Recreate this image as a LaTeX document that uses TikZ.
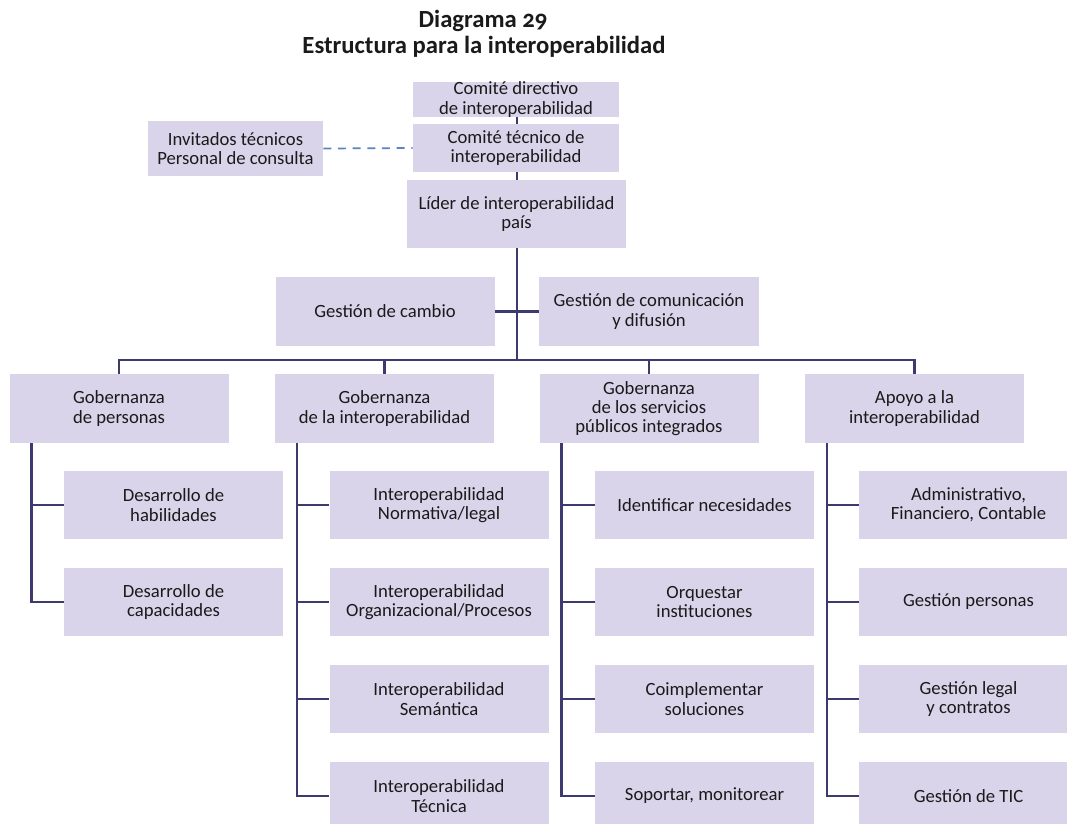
\documentclass[tikz,border=0pt]{standalone}
\usepackage{fontspec}
\setmainfont{Carlito}
\definecolor{boxfill}{HTML}{D9D4EA}
\definecolor{linec}{HTML}{3C3A6E}
\definecolor{dashc}{HTML}{5B84C4}
\definecolor{txt}{HTML}{1A1A1A}
\begin{document}
\begin{tikzpicture}[x=0.75pt,y=0.75pt,
  box/.style={fill=boxfill, draw=none, inner sep=0pt, align=center, text=txt,
    font=\fontsize{14pt}{14.4pt}\selectfont},
  l2/.style={box, minimum width=219*0.75pt, minimum height=69*0.75pt},
  child/.style={box, minimum width=219*0.75pt, minimum height=68*0.75pt},
  ln/.style={draw=linec, line width=1.7pt},
  trunk/.style={draw=linec, line width=2.2pt},
  dashline/.style={draw=dashc, line width=1.3pt, dash pattern=on 6pt off 5pt},
  ttl/.style={font=\fontsize{18.5pt}{20pt}\selectfont\bfseries\addfontfeatures{Numbers=OldStyle}, text=txt, anchor=base, inner sep=0pt}
]
\useasboundingbox (0,0) rectangle (1067,-824);
\clip (0,0) rectangle (1067,-824);
\fill[white] (0,0) rectangle (1067,-824);

% title
\node[ttl] (t1) at (483,-28) {Diagrama 29};
\node[ttl] (t2) at (484,-54) {Estructura para la interoperabilidad};

% top nodes
\node[box, minimum width=206*0.75pt, minimum height=33*0.75pt] (dir) at (516,-99.5) {Comité directivo\\de interoperabilidad};
\node[box, minimum width=206*0.75pt, minimum height=48*0.75pt] (tec) at (516,-148) {Comité técnico de\\interoperabilidad};
\node[box, minimum width=175*0.75pt, minimum height=55*0.75pt] (inv) at (235.5,-148.5) {Invitados técnicos\\Personal de consulta};
\node[box, minimum width=219*0.75pt, minimum height=68*0.75pt] (lider) at (516.5,-214) {Líder de interoperabilidad\\país};
\node[l2] (gc) at (385,-311.5) {Gestión de cambio};
\node[l2, minimum width=220*0.75pt] (gcom) at (649,-311.5) {Gestión de comunicación\\y difusión};

% level 2
\node[l2] (gp) at (119,-408.5) {Gobernanza\\de personas};
\node[l2] (gi) at (384.5,-408.5) {Gobernanza\\de la interoperabilidad};
\node[l2] (gs) at (649,-408.5) {Gobernanza\\de los servicios\\públicos integrados};
\node[l2] (ap) at (914.5,-408.5) {Apoyo a la\\interoperabilidad};

% children
\node[child] (p1) at (173.5,-505) {Desarrollo de\\habilidades};
\node[child] (p2) at (173.5,-602) {Desarrollo de\\capacidades};

\node[child] (i1) at (439,-505) {Interoperabilidad\\Normativa/legal};
\node[child] (i2) at (439,-602) {Interoperabilidad\\Organizacional/Procesos};
\node[child] (i3) at (439,-699) {Interoperabilidad\\Semántica};
\node[child] (i4) at (439,-796) {Interoperabilidad\\Técnica};

\node[child] (s1) at (704.5,-505) {Identificar necesidades};
\node[child] (s2) at (704.5,-602) {Orquestar\\instituciones};
\node[child] (s3) at (704.5,-699) {Coimplementar\\soluciones};
\node[child] (s4) at (704.5,-796) {Soportar, monitorear};

\node[child] (a1) at (968.5,-505) {Administrativo,\\Financiero, Contable};
\node[child] (a2) at (968.5,-602) {Gestión personas};
\node[child] (a3) at (968.5,-699) {Gestión legal\\y contratos};
\node[child] (a4) at (968.5,-796) {Gestión de TIC};

% connectors
\coordinate (bus) at (517,-360);
\draw[trunk] ([xshift=0.75pt]dir.south) -- ([xshift=0.75pt]tec.north);
\draw[trunk] ([xshift=0.75pt]tec.south) -- ([xshift=0.5*0.75pt]lider.north);
\draw[trunk] ([xshift=0.5*0.75pt]lider.south) -- (bus);
\draw[dashline] (inv.east) -- (tec.west);
\draw[ln] (gc.east) -- (gcom.west);
\draw[ln] (gp.north) -- (gp.north |- bus) -- (ap.north |- bus) -- (ap.north);
\draw[ln] (gi.north) -- (gi.north |- bus);
\draw[ln] (gs.north) -- (gs.north |- bus);

\foreach \pn/\kids in {gp/{p1,p2}, gi/{i1,i2,i3,i4}, gs/{s1,s2,s3,s4}, ap/{a1,a2,a3,a4}}{
  \foreach \k in \kids {
    \draw[ln] ([xshift=-87.5*0.75pt]\pn.south) |- (\k.west);
  }
}
\end{tikzpicture}
\end{document}
